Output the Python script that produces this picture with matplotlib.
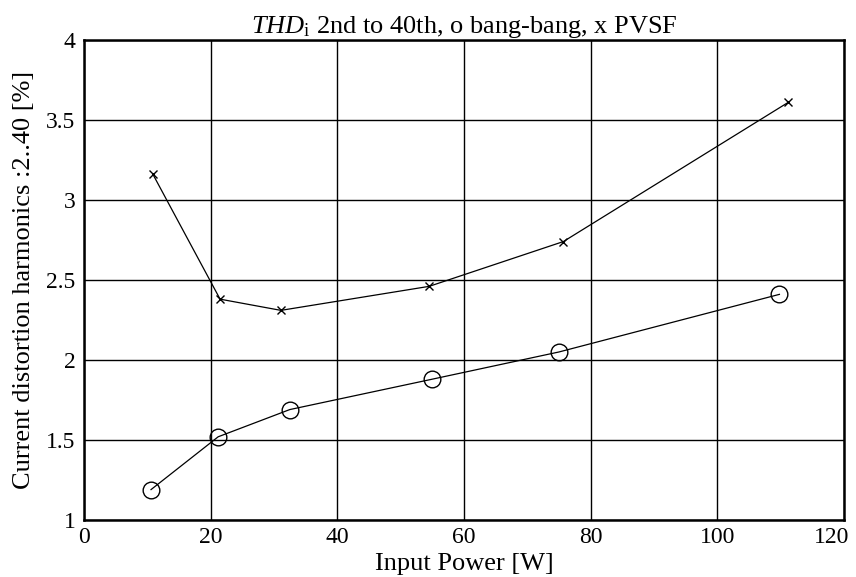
import matplotlib
matplotlib.use('Agg')
import matplotlib.pyplot as plt
import matplotlib.transforms as mtrans

plt.rcParams['font.family'] = ['Liberation Serif', 'DejaVu Serif']
plt.rcParams['mathtext.fontset'] = 'custom'
plt.rcParams['mathtext.rm'] = 'Liberation Serif'
plt.rcParams['mathtext.it'] = 'Liberation Serif:italic'

# bang-bang (o)
p_bang = [10.6, 21.2, 32.5, 55.0, 75.0, 109.8]
thd_bang = [1.19, 1.52, 1.69, 1.88, 2.05, 2.41]

# PVSF (x)
p_pvsf = [10.9, 21.5, 31.1, 54.5, 75.7, 111.2]
thd_pvsf = [3.16, 2.38, 2.31, 2.46, 2.74, 3.61]

xticks = [0, 20, 40, 60, 80, 100, 120]
yticks = [1, 1.5, 2, 2.5, 3, 3.5, 4]

fig = plt.figure(figsize=(8.56, 5.77), dpi=100)
ax = fig.add_axes([0.098, 0.0988, 0.888, 0.832])

ax.plot(p_bang, thd_bang, color='black', lw=0.9, marker='o', ms=12,
        mfc='none', mec='black', mew=1.0)
ax.plot(p_pvsf, thd_pvsf, color='black', lw=0.9, marker='x', ms=6,
        mec='black', mew=1.0)

ax.set_xlim(0, 120)
ax.set_ylim(1, 4)
ax.set_xticks(xticks)
ax.set_yticks(yticks)
ax.set_xticklabels([str(v) for v in xticks])
ax.set_yticklabels(['1', '1.5', '2', '2.5', '3', '3.5', '4'])
ax.grid(True, color='black', lw=1.0, ls='-')
ax.tick_params(direction='in', length=0, labelsize=17)
ax.tick_params(axis='x', pad=5)
ax.tick_params(axis='y', pad=6)
for s in ax.spines.values():
    s.set_linewidth(1.8)

# last x label pulled in so it stays inside the figure
lbl = ax.get_xticklabels()[-1]
lbl.set_transform(lbl.get_transform() + mtrans.ScaledTranslation(-12 / 100, 0, fig.dpi_scale_trans))

ax.set_title(r'$\mathit{THD}_{\mathrm{i}}$ 2nd to 40th, o bang-bang, x PVSF',
             fontsize=19, pad=3)
ax.set_xlabel('Input Power [W]', fontsize=19, labelpad=4)
ax.set_ylabel('Current distortion harmonics :2..40 [%]', fontsize=19, labelpad=8)

fig.savefig('out.png', dpi=100)
